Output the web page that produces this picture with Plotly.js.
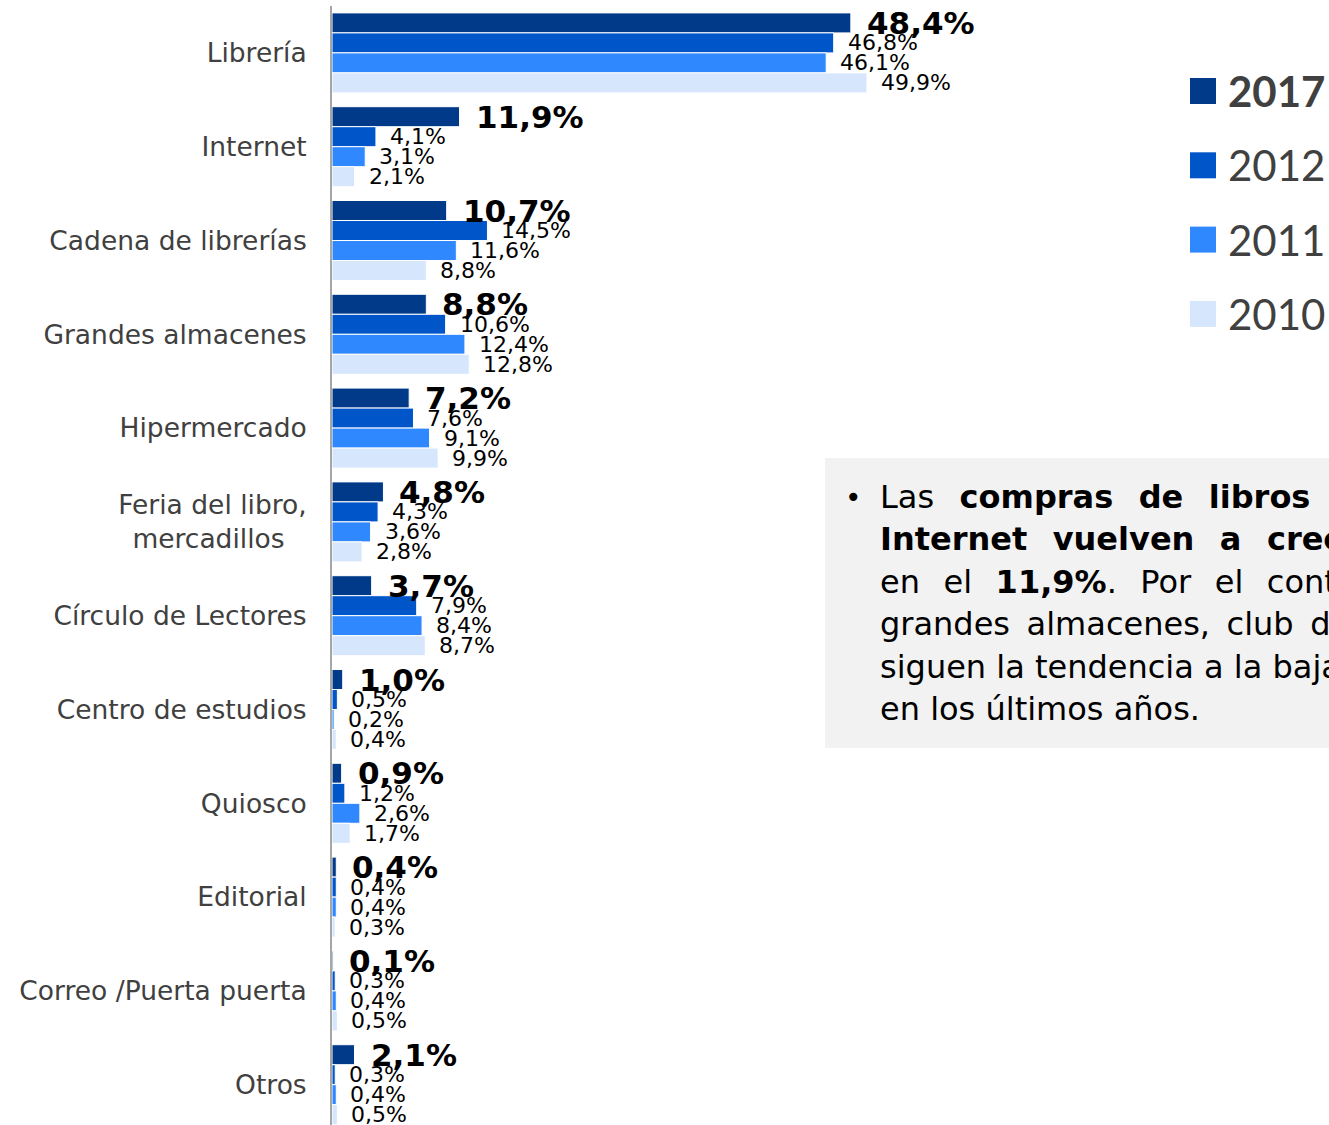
<!DOCTYPE html>
<html><head><meta charset="utf-8">
<script src="https://cdn.plot.ly/plotly-3.0.1.min.js"></script>
<style>html,body{margin:0;padding:0;background:#fff;overflow:hidden}</style>
</head><body>
<div id="chart" style="width:1329px;height:1125px"></div>
<script>
const categories = ['Librería','Internet','Cadena de librerías','Grandes almacenes','Hipermercado','Feria del libro, mercadillos','Círculo de Lectores','Centro de estudios','Quiosco','Editorial','Correo /Puerta puerta','Otros'];
const tickLabels = ['Librería','Internet','Cadena de librerías','Grandes almacenes','Hipermercado','Feria del libro,<br>mercadillos\u00A0\u00A0\u2009','Círculo de Lectores','Centro de estudios','Quiosco','Editorial','Correo /Puerta puerta','Otros'];
const seriesNames = ['2017','2012','2011','2010'];
const v2017 = [48.4,11.9,10.7,8.8,7.2,4.8,3.7,1.0,0.9,0.4,0.1,2.1];
const v2012 = [46.8,4.1,14.5,10.6,7.6,4.3,7.9,0.5,1.2,0.4,0.3,0.3];
const v2011 = [46.1,3.1,11.6,12.4,9.1,3.6,8.4,0.2,2.6,0.4,0.4,0.4];
const v2010 = [49.9,2.1,8.8,12.8,9.9,2.8,8.7,0.4,1.7,0.3,0.5,0.5];
const colors = ['#023a8a','#0055c8','#3088ff','#d6e6fc'];
const S2 = '\u00A0\u00A0\u200A';
const S1 = '\u00A0\u2009';
const noteLines = [
  'Las<b>' + S2 + 'compras' + S2 + 'de' + S2 + 'libros' + S2 + 'por</b>',
  '<b>Internet' + S2 + 'vuelven' + S2 + 'a' + S2 + 'crecer</b>',
  'en' + S2 + 'el' + S2 + '<b>11,9%</b>.' + S2 + 'Por' + S2 + 'el' + S2 + 'contrario,',
  'grandes' + S1 + 'almacenes,' + S1 + 'club' + S1 + 'de' + S1 + 'lectores',
  'siguen la tendencia a la baja',
  'en los últimos años.'
];

const series = [v2017, v2012, v2011, v2010];
const W = 1329, H = 1125, L = 332, T = 6;
const plotW = W - L, plotH = H - T;
const catSpacing = 93.8;
const yBottom = -0.5 + plotH / catSpacing;
const xMax = plotW / 10.72;
const bargap = 0.147;
const ypos = categories.map((c, i) => i);
const fmt = v => v.toFixed(1).replace('.', ',') + '%';

const traces = series.map((vals, j) => ({
  type: 'bar', orientation: 'h', name: seriesNames[j],
  x: vals, y: ypos,
  marker: {color: colors[j], line: {color: '#ffffff', width: 1}},
  hoverinfo: 'skip', showlegend: false
}));

const annotations = [];
const barW = (1 - bargap) / 4;
series.forEach((vals, j) => {
  vals.forEach((v, i) => {
    annotations.push({
      x: v, y: i + (-1.5 + j) * barW, xref: 'x', yref: 'y',
      text: j === 0 ? '<b>' + fmt(v) + '</b>' : fmt(v),
      showarrow: false, xanchor: 'left', yanchor: 'middle',
      xshift: j === 0 ? 14 : 12,
      font: {family: 'DejaVu Sans', size: j === 0 ? 31 : 22, color: '#000000'}
    });
  });
});

const px = x => (x - L) / plotW;
const py = y => (H - y) / plotH;
const shapes = [];
// legend
seriesNames.forEach((n, j) => {
  const cy = 91 + j * 74.3;
  shapes.push({type: 'rect', xref: 'paper', yref: 'paper',
    x0: px(1190), x1: px(1216), y0: py(cy + 13), y1: py(cy - 13),
    fillcolor: colors[j], line: {width: 0}});
  annotations.push({xref: 'paper', yref: 'paper', x: px(1226), y: py(cy),
    xanchor: 'left', yanchor: 'middle', showarrow: false,
    text: j === 0 ? '<b>' + n + '</b>' : n,
    font: {family: 'Lato', size: 42, color: '#404040'}});
});
// note box
shapes.push({type: 'rect', xref: 'paper', yref: 'paper',
  x0: px(825), x1: px(1340), y0: py(748), y1: py(458),
  fillcolor: '#f2f2f2', line: {width: 0}, layer: 'below'});
annotations.push({xref: 'paper', yref: 'paper', x: px(843), y: py(497),
  xanchor: 'left', yanchor: 'middle', showarrow: false, text: '•',
  font: {family: 'DejaVu Sans', size: 28, color: '#000'}});
noteLines.forEach((t, k) => {
  annotations.push({xref: 'paper', yref: 'paper', x: px(878), y: py(497 + k * 42.4),
    xanchor: 'left', yanchor: 'middle', showarrow: false, text: t,
    font: {family: 'DejaVu Sans', size: 32, color: '#000'}});
});

const layout = {
  width: W, height: H,
  margin: {l: L, r: 0, t: T, b: 0},
  paper_bgcolor: '#ffffff', plot_bgcolor: '#ffffff',
  barmode: 'group', bargap: bargap, bargroupgap: 0,
  showlegend: false,
  xaxis: {range: [0, xMax], showgrid: false, zeroline: false, showticklabels: false, showline: false, fixedrange: true},
  yaxis: {range: [yBottom, -0.5], tickmode: 'array', tickvals: ypos, ticktext: tickLabels,
    showgrid: false, zeroline: false, showline: true, linecolor: '#a6a6a6', linewidth: 2,
    ticks: '', ticklabelstandoff: 18,
    tickfont: {family: 'DejaVu Sans', size: 26.5, color: '#404040'}},
  shapes: shapes,
  annotations: annotations
};
Plotly.newPlot('chart', traces, layout, {displayModeBar: false, staticPlot: true});
</script>
</body></html>
